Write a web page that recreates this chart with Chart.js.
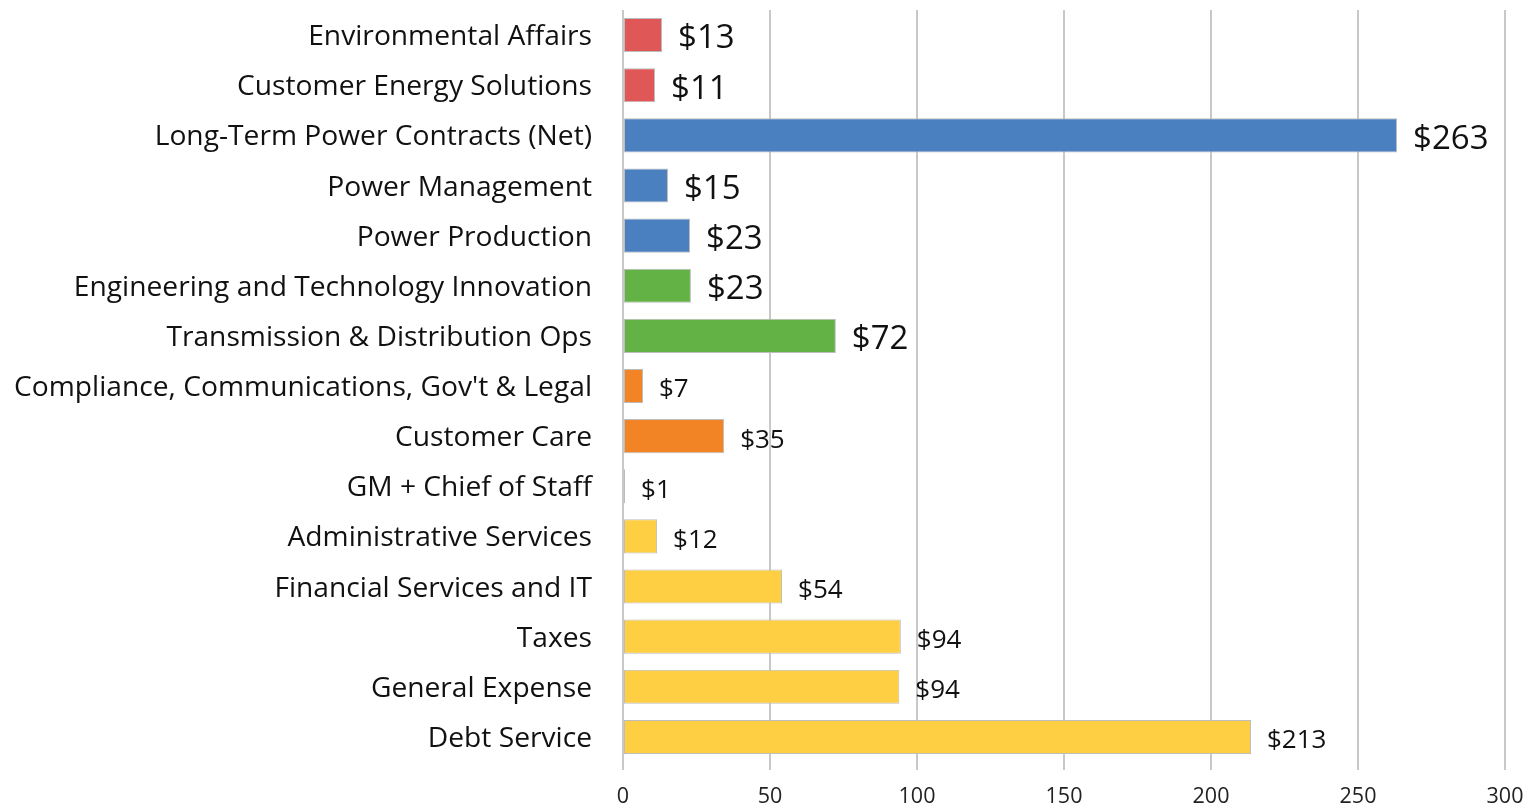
<!DOCTYPE html>
<html>
<head>
<meta charset="utf-8">
<script src="https://cdn.jsdelivr.net/npm/chart.js@4.4.1/dist/chart.umd.min.js"></script>
<style>
  html, body { margin: 0; padding: 0; background: #ffffff; }
  #wrap { width: 1528px; height: 808px; position: relative; }
</style>
</head>
<body>
<div id="wrap"><canvas id="c" width="1528" height="808"></canvas></div>
<script>
const categories = [
  "Environmental Affairs",
  "Customer Energy Solutions",
  "Long-Term Power Contracts (Net)",
  "Power Management",
  "Power Production",
  "Engineering and Technology Innovation",
  "Transmission & Distribution Ops",
  "Compliance, Communications, Gov't & Legal",
  "Customer Care",
  "GM + Chief of Staff",
  "Administrative Services",
  "Financial Services and IT",
  "Taxes",
  "General Expense",
  "Debt Service"
];
const values = [13.3, 10.9, 263.3, 15.3, 22.8, 23.1, 72.4, 6.8, 34.4, 0.7, 11.6, 54.1, 94.5, 94.0, 213.6];
const valueLabels = ["$13", "$11", "$263", "$15", "$23", "$23", "$72", "$7", "$35", "$1", "$12", "$54", "$94", "$94", "$213"];
const groups = ["env", "env", "power", "power", "power", "eng", "eng", "cust", "cust", "admin", "admin", "admin", "admin", "admin", "admin"];
const xTicks = [0, 50, 100, 150, 200, 250, 300];

const groupColors = { env: "#DF5757", power: "#4A80C0", eng: "#63B246", cust: "#F28425", admin: "#FECF43" };
const largeLabelGroups = ["env", "power", "eng"];
const FONT = "'Open Sans', 'Noto Sans', sans-serif";

const labelPlugin = {
  id: 'valueLabels',
  afterDatasetsDraw(chart) {
    const ctx = chart.ctx;
    const meta = chart.getDatasetMeta(0);
    ctx.save();
    ctx.fillStyle = '#111111';
    ctx.textBaseline = 'middle';
    ctx.textAlign = 'left';
    meta.data.forEach((bar, i) => {
      const big = largeLabelGroups.includes(groups[i]);
      ctx.font = (big ? '33px ' : '26px ') + FONT;
      ctx.fillText(valueLabels[i], bar.x + 16, bar.y + 4);
    });
    ctx.restore();
  }
};

new Chart(document.getElementById('c'), {
  type: 'bar',
  data: {
    labels: categories,
    datasets: [{
      data: values,
      backgroundColor: groups.map(g => groupColors[g]),
      borderColor: '#BDBDBD',
      borderWidth: 1,
      borderSkipped: false,
      barPercentage: 0.68,
      categoryPercentage: 1.0
    }]
  },
  options: {
    indexAxis: 'y',
    responsive: false,
    animation: false,
    devicePixelRatio: 1,
    layout: { padding: { top: 10, right: 23, bottom: 0, left: 0 } },
    plugins: { legend: { display: false }, tooltip: { enabled: false } },
    scales: {
      x: {
        min: 0, max: 300,
        afterBuildTicks(scale) { scale.ticks = xTicks.map(v => ({ value: v })); },
        grid: { color: '#C8C8C8', lineWidth: 2, tickLength: 8, drawTicks: true },
        border: { display: false },
        ticks: { color: '#222222', font: { family: FONT, size: 21.5 }, padding: 14, maxRotation: 0 },
        afterFit(scale) { scale.height = 46; scale.paddingLeft = 0; scale.paddingRight = 0; }
      },
      y: {
        grid: { display: false, drawTicks: false },
        border: { display: false },
        ticks: { color: '#111111', font: { family: FONT, size: 28.2 }, padding: 31, labelOffset: 2, autoSkip: false },
        afterFit(scale) { scale.width = 623; scale.paddingTop = 0; scale.paddingBottom = 0; }
      }
    }
  },
  plugins: [labelPlugin]
});
</script>
</body>
</html>
